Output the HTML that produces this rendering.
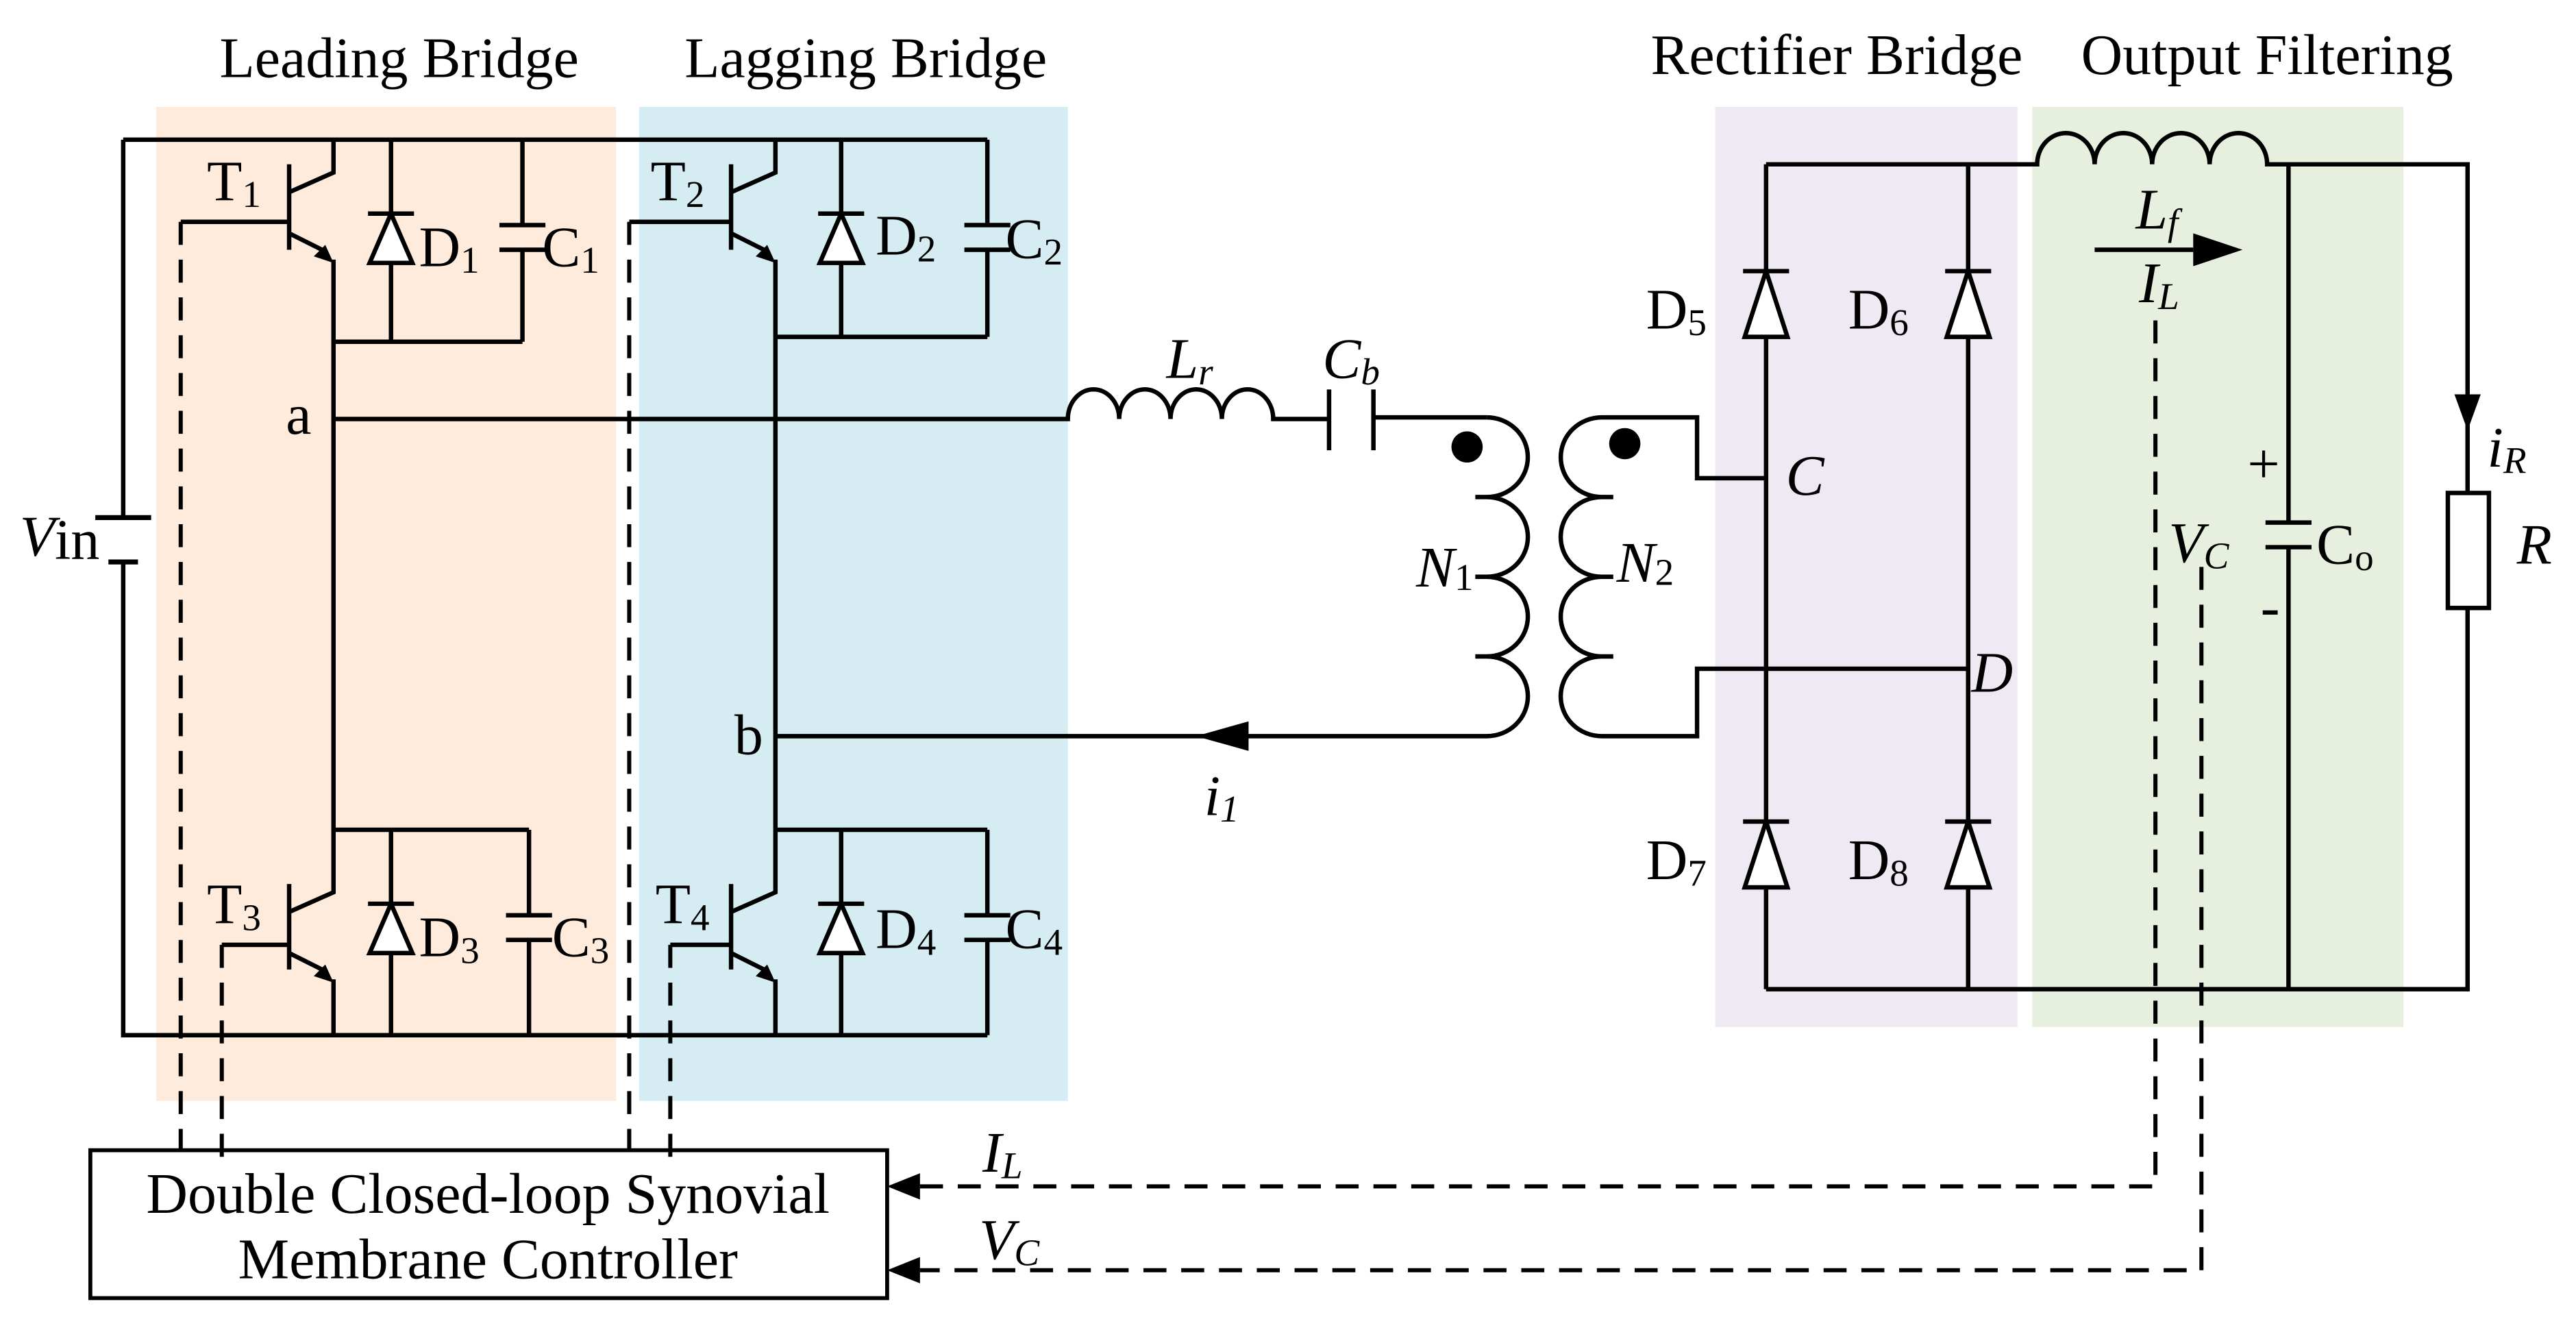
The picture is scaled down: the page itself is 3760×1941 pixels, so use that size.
<!DOCTYPE html>
<html><head><meta charset="utf-8"><style>
html,body{margin:0;padding:0;background:#fff}
svg{display:block}
text{font-family:"Liberation Serif",serif;font-size:35px;fill:#000}
.s{font-size:23px}
</style></head><body>
<svg width="3760" height="1941" viewBox="0 0 1568 809.4" preserveAspectRatio="none" xmlns="http://www.w3.org/2000/svg">
<rect x="95" y="65" width="280" height="605" fill="#feebdc"/>
<rect x="389" y="65" width="261" height="605" fill="#d5edf2"/>
<rect x="1044" y="65" width="184" height="560" fill="#eee9f2"/>
<rect x="1237" y="65" width="226" height="560" fill="#e7f0de"/>
<text x="243" y="47" text-anchor="middle">Leading Bridge</text>
<text x="527" y="47" text-anchor="middle">Lagging Bridge</text>
<text x="1118" y="45" text-anchor="middle">Rectifier Bridge</text>
<text x="1380" y="45" text-anchor="middle">Output Filtering</text>
<g fill="none" stroke="#000" stroke-width="2.7">
<path d="M75 85H601M75 85V315M75 342V630H601"/>
<path d="M58 315H92M66 342H84" stroke-width="3"/>
<path d="M203 85V105L176 117M176 100V152M176 142L196 152M203 158V505M110 135H176M203 208H318"/>
<path d="M238 85V208M224 130H252"/>
<path d="M318 85V137M304 137H332M304 152H332M318 152V208"/>
<path d="M203 505V543L176 555M176 538V590M176 580L196 590M203 596V630M135 575H176M203 505H322"/>
<path d="M238 505V630M224 550H252"/>
<path d="M322 505V557M308 557H336M308 572H336M322 572V630"/>
<path d="M472 85V105L445 117M445 100V152M445 142L465 152M472 158V505M383 135H445M472 205H601"/>
<path d="M512 85V205M498 130H526"/>
<path d="M601 85V137M587 137H615M587 152H615M601 152V205"/>
<path d="M472 505V543L445 555M445 538V590M445 580L465 590M472 596V630M408 575H445M472 505H601"/>
<path d="M512 505V630M498 550H526"/>
<path d="M601 505V557M587 557H615M587 572H615M601 572V630"/>
<path d="M203 255H650a15.6 18 0 0 1 31.25 0a15.6 18 0 0 1 31.25 0a15.6 18 0 0 1 31.25 0a15.6 18 0 0 1 31.25 0H809M809 237V274M836 237V274M836 254H905"/>
<!-- primary -->
<path d="M905 254a25 24.25 0 0 1 0 48.5a25 24.25 0 0 1 0 48.5a25 24.25 0 0 1 0 48.5a25 24.25 0 0 1 0 48.5H472M898 302.5H905M898 351H905M898 399.5H905"/>
<!-- secondary -->
<path d="M975 254a25 24.25 0 0 0 0 48.5a25 24.25 0 0 0 0 48.5a25 24.25 0 0 0 0 48.5a25 24.25 0 0 0 0 48.5H1033V407H1198M975 254H1033V291H1075M975 302.5H982M975 351H982M975 399.5H982"/>
<path d="M1075 100V602M1198 100V602M1075 100H1240a17.5 19 0 0 1 35 0a17.5 19 0 0 1 35 0a17.5 19 0 0 1 35 0a17.5 19 0 0 1 35 0H1502V300M1502 370V602H1075"/>
<path d="M1061 165H1089M1184 165H1212M1061 500H1089M1184 500H1212"/>
<path d="M1393 100V318M1379 318H1407M1379 333H1407M1393 333V602"/>
<rect x="1490" y="300" width="25" height="70"/>
<path d="M1275 152H1335"/>
</g>
<g fill="#fff" stroke="#000" stroke-width="2.7">
<path d="M238 130L225 160H251Z"/>
<path d="M238 550L225 580H251Z"/>
<path d="M512 130L499 160H525Z"/>
<path d="M512 550L499 580H525Z"/>
<path d="M1075 165L1062 205H1088Z"/>
<path d="M1198 165L1185 205H1211Z"/>
<path d="M1075 500L1062 540H1088Z"/>
<path d="M1198 500L1185 540H1211Z"/>
</g>
<g fill="#000">
<path d="M203 160L191 156L198 149Z"/>
<path d="M203 598L191 594L198 587Z"/>
<path d="M472 160L460 156L467 149Z"/>
<path d="M472 598L460 594L467 587Z"/>
<path d="M728 448L760 439V457Z"/>
<path d="M1365 152L1335 142V162Z"/>
<path d="M1502 262L1494 240H1510Z"/>
<path d="M540 722L560 714V730Z"/>
<path d="M540 773L560 765V781Z"/>
<ellipse cx="893" cy="272" rx="9.5" ry="9.5"/>
<ellipse cx="989" cy="270" rx="9.5" ry="9.5"/>
</g>
<g fill="none" stroke="#000" stroke-width="2.5" stroke-dasharray="14 9">
<path d="M110 135V705M135 575V705M383 135V705M408 575V705"/>
<path d="M1312 195V722H560M1340 345V773H560"/>
</g>
<rect x="55" y="700" width="485" height="90" fill="none" stroke="#000" stroke-width="2.4"/>
<text x="297" y="738" text-anchor="middle">Double Closed-loop Synovial</text>
<text x="297" y="778" text-anchor="middle">Membrane Controller</text>
<text x="126" y="122">T<tspan class="s" dy="4">1</tspan></text>
<text x="255" y="162">D<tspan class="s" dy="4">1</tspan></text>
<text x="330" y="162">C<tspan class="s" dy="4">1</tspan></text>
<text x="126" y="562">T<tspan class="s" dy="4">3</tspan></text>
<text x="255" y="582">D<tspan class="s" dy="4">3</tspan></text>
<text x="336" y="582">C<tspan class="s" dy="4">3</tspan></text>
<text x="396" y="122">T<tspan class="s" dy="4">2</tspan></text>
<text x="533" y="155">D<tspan class="s" dy="4">2</tspan></text>
<text x="612" y="157">C<tspan class="s" dy="4">2</tspan></text>
<text x="399" y="562">T<tspan class="s" dy="4">4</tspan></text>
<text x="533" y="577">D<tspan class="s" dy="4">4</tspan></text>
<text x="612" y="577">C<tspan class="s" dy="4">4</tspan></text>
<text x="174" y="264">a</text>
<text x="447" y="459">b</text>
<text x="12" y="338" font-style="italic">V<tspan font-style="normal" dy="2">in</tspan></text>
<text x="710" y="230" font-style="italic">L<tspan class="s" dy="4">r</tspan></text>
<text x="805" y="230" font-style="italic">C<tspan class="s" dy="4">b</tspan></text>
<text x="733" y="496" font-style="italic">i<tspan class="s" dy="4">1</tspan></text>
<text x="862" y="357" font-style="italic">N<tspan class="s" dy="2" font-style="normal">1</tspan></text>
<text x="984" y="354" font-style="italic">N<tspan class="s" dy="2" font-style="normal">2</tspan></text>
<text x="1087" y="301" font-style="italic">C</text>
<text x="1200" y="421" font-style="italic">D</text>
<text x="1002" y="200">D<tspan class="s" dy="4">5</tspan></text>
<text x="1125" y="200">D<tspan class="s" dy="4">6</tspan></text>
<text x="1002" y="535">D<tspan class="s" dy="4">7</tspan></text>
<text x="1125" y="535">D<tspan class="s" dy="4">8</tspan></text>
<text x="1300" y="139" font-style="italic">L<tspan class="s" dy="4">f</tspan></text>
<text x="1302" y="184" font-style="italic">I<tspan class="s" dy="4">L</tspan></text>
<text x="1320" y="342" font-style="italic">V<tspan class="s" dy="4">C</tspan></text>
<text x="1368" y="294" font-size="24">+</text>
<text x="1376" y="381" font-size="24">-</text>
<text x="1410" y="343">C<tspan class="s" dy="4">o</tspan></text>
<text x="1532" y="343" font-style="italic">R</text>
<text x="1514" y="284" font-style="italic">i<tspan class="s" dy="4">R</tspan></text>
<text x="598" y="713" font-style="italic">I<tspan class="s" dy="4">L</tspan></text>
<text x="596" y="766" font-style="italic">V<tspan class="s" dy="4">C</tspan></text>
</svg>
</body></html>
